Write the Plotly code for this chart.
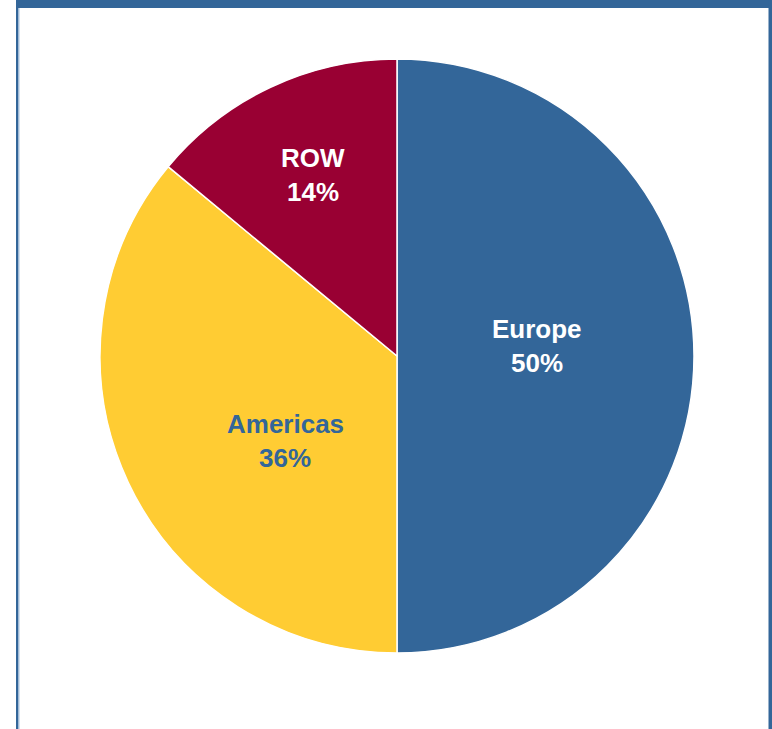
import plotly.graph_objects as go

regions = ["Europe", "Americas", "ROW"]
shares = [50, 36, 14]
colors = ["#336699", "#FFCC33", "#990033"]
label_colors = ["#FFFFFF", "#336699", "#FFFFFF"]
# label anchor positions (pixels from top-left) for each slice label
label_x = [537, 285, 313]
label_y = [329, 424, 158]

W, H = 772, 729

fig = go.Figure(go.Pie(
    labels=regions,
    values=shares,
    sort=False,
    direction="clockwise",
    rotation=0,
    marker=dict(colors=colors, line=dict(color="white", width=1.5)),
    textinfo="none",
    hoverinfo="label+percent",
    showlegend=False,
    domain=dict(x=[(397 - 297) / W, (397 + 297) / W], y=[1 - 653 / H, 1 - 59 / H]),
))

font = "Liberation Sans, Arial"
ann = []
for r, s, c, x, y in zip(regions, shares, label_colors, label_x, label_y):
    ann.append(dict(x=x / W, y=1 - y / H, xref="paper", yref="paper", text=f"<b>{r}</b>",
                    xanchor="center", yanchor="middle",
                    showarrow=False, font=dict(family=font, size=26, color=c)))
    ann.append(dict(x=x / W, y=1 - (y + 34) / H, xref="paper", yref="paper", text=f"<b>{s}%</b>",
                    xanchor="center", yanchor="middle",
                    showarrow=False, font=dict(family=font, size=26, color=c)))

shapes = [
    dict(type="rect", xref="paper", yref="paper", x0=16 / W, x1=1, y0=1 - 8 / H, y1=1,
         fillcolor="#336699", line=dict(width=0)),
    dict(type="rect", xref="paper", yref="paper", x0=16 / W, x1=18.5 / W, y0=0, y1=1,
         fillcolor="#336699", line=dict(width=0)),
    dict(type="rect", xref="paper", yref="paper", x0=18.5 / W, x1=19.5 / W, y0=0, y1=1 - 8 / H,
         fillcolor="#A9C4E0", line=dict(width=0)),
    dict(type="rect", xref="paper", yref="paper", x0=768.5 / W, x1=1, y0=0, y1=1,
         fillcolor="#336699", line=dict(width=0)),
]

fig.update_layout(
    width=W, height=H,
    margin=dict(l=0, r=0, t=0, b=0),
    paper_bgcolor="white",
    plot_bgcolor="white",
    annotations=ann,
    shapes=shapes,
)

fig.write_html("out.html", config={"displayModeBar": False},
               post_script="document.body.style.margin='0';document.body.style.overflow='hidden';")
